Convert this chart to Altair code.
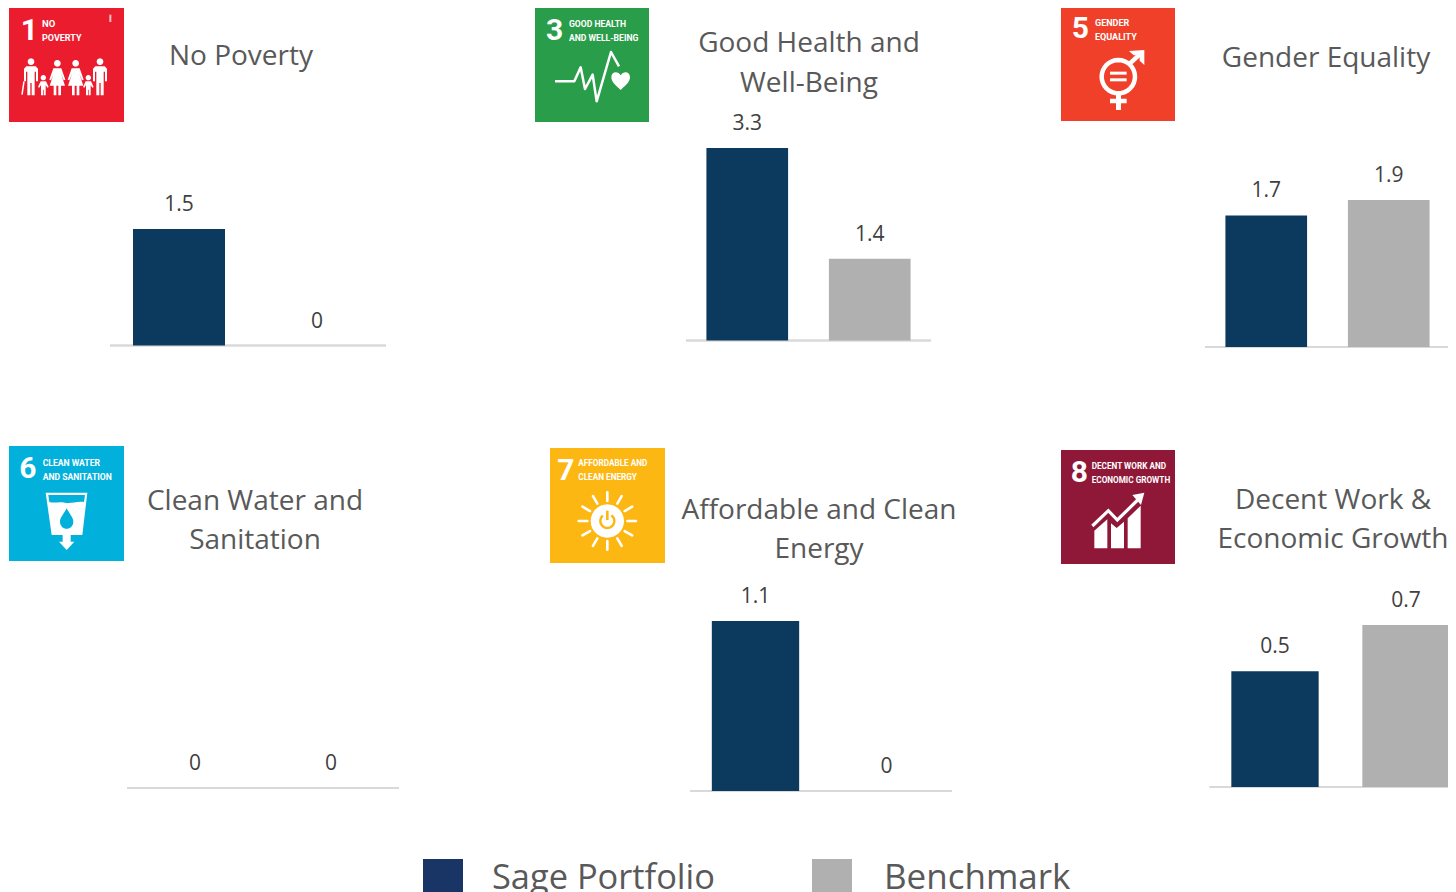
import math
import altair as alt
import pandas as pd

# ---- chart values -------------------------------------------------------
series = ["Sage Portfolio", "Benchmark"]
series_colors = ["#0b3a5e", "#b0b0b0"]
legend_colors = ["#193566", "#b0b0b0"]
goals = ["No Poverty", "Good Health and Well-Being", "Gender Equality",
         "Clean Water and Sanitation", "Affordable and Clean Energy",
         "Decent Work & Economic Growth"]
portfolio = [1.5, 3.3, 1.7, 0, 1.1, 0.5]
benchmark = [0, 1.4, 1.9, 0, 0, 0.7]
scale_tops = [1.5, 3.3, 1.9, 1.0, 1.1, 0.7]

TEXT = "#595959"
FONT = "Open Sans"
NARROW = "Roboto"


def X(p):
    return p - 8


def Y(p):
    return p - 8


# ---- layout of each panel (page pixels) ---------------------------------
panels = [
    dict(rule=(110, 386), base=345.5, top=229, title=[("No Poverty", 241, 65)]),
    dict(rule=(686, 931), base=340.5, top=148,
         title=[("Good Health and", 809, 52), ("Well-Being", 809, 92)]),
    dict(rule=(1205, 1450), base=347, top=200, title=[("Gender Equality", 1326, 67)]),
    dict(rule=(127, 399), base=788, top=688,
         title=[("Clean Water and", 255, 510), ("Sanitation", 255, 549)]),
    dict(rule=(690, 952), base=791, top=621,
         title=[("Affordable and Clean", 819, 519), ("Energy", 819, 558)]),
    dict(rule=(1209.5, 1471.5), base=787, top=625,
         title=[("Decent Work &", 1333, 509), ("Economic Growth", 1333, 548)]),
]


def text_mark(s, x, y, size, color=TEXT, font=FONT, align="center", weight="normal"):
    return alt.Chart(pd.DataFrame({"t": [s]})).mark_text(
        font=font, fontSize=size, color=color, align=align, baseline="alphabetic",
        fontWeight=weight,
    ).encode(x=alt.value(X(x)), y=alt.value(Y(y)), text="t:N")


def panel_layer(i):
    p = panels[i]
    df = pd.DataFrame({"series": series, "value": [portfolio[i], benchmark[i]]})
    xs = alt.Scale(domain=series, range=[X(p["rule"][0]), X(p["rule"][1])],
                   paddingInner=1 / 3, paddingOuter=1 / 6)
    ys = alt.Scale(domain=[0, scale_tops[i]], range=[Y(p["base"]), Y(p["top"])],
                   nice=False, zero=False)
    xe = alt.X("series:N", scale=xs, axis=None, sort=series)
    ye = alt.Y("value:Q", scale=ys, axis=None)
    base = alt.Chart(df)
    bars = base.mark_bar().encode(
        x=xe, y=ye,
        color=alt.Color("series:N", scale=alt.Scale(domain=series, range=series_colors), legend=None),
    )
    labels = base.mark_text(font=FONT, fontSize=21, color="#404040", baseline="alphabetic", dy=-18).encode(
        x=xe, y=ye, text=alt.Text("value:Q")
    )
    rule = base.mark_rule(color="#d9d9d9", strokeWidth=2).encode(
        x=alt.value(X(p["rule"][0])), x2=alt.value(X(p["rule"][1])),
        y=alt.Y(datum=0, scale=ys, axis=None),
    )
    return alt.layer(rule, bars, labels)


# ---- icon helpers: glyph paths written in zoom pixels of the icon box ----
def rect(x, y, w, h, color):
    return alt.Chart(pd.DataFrame({"a": [0]})).mark_rect(color=color).encode(
        x=alt.value(X(x)), x2=alt.value(X(x + w)), y=alt.value(Y(y)), y2=alt.value(Y(y + h)))


class Icon:
    def __init__(self, x, y, w, h, color, zx, zy):
        self.x, self.y, self.w, self.h, self.color, self.zx, self.zy = x, y, w, h, color, zx, zy
        self.s = max(w, h)
        self.layers = [rect(x, y, w, h, color)]

    def conv(self, path):
        out = []
        for tok in path.split():
            if tok[0].isalpha():
                out.append(tok)
            else:
                a, b = tok.split(",")
                u = (float(a) - self.zx) / (self.s * 3) * 2 - 1
                v = (float(b) - self.zy) / (self.s * 3) * 2 - 1
                out.append(f"{u:.4f},{v:.4f}")
        return " ".join(out)

    def shape(self, path, fill="#ffffff", stroke=None, sw=0, cap="butt", join="miter"):
        kw = dict(shape=self.conv(path), size=self.s ** 2, opacity=1)
        if stroke:
            m = alt.Chart(pd.DataFrame({"a": [0]})).mark_point(
                filled=False, stroke=stroke, strokeWidth=sw, strokeCap=cap, strokeJoin=join, **kw)
        else:
            m = alt.Chart(pd.DataFrame({"a": [0]})).mark_point(
                filled=True, fill=fill, strokeWidth=0, **kw)
        self.layers.append(m.encode(x=alt.value(X(self.x + self.s / 2)), y=alt.value(Y(self.y + self.s / 2))))

    def line(self, path, sw, color="#ffffff", cap="butt", join="miter"):
        self.shape(path, stroke=color, sw=sw, cap=cap, join=join)

    def circle(self, cx, cy, r, fill="#ffffff"):
        self.shape(circ(cx, cy, r), fill=fill)

    def label(self, s, zx, zy, size, weight="bold"):
        self.layers.append(text_mark(s, zx / 3 + self.ox, zy / 3 + self.oy, size, "#ffffff", NARROW, "left", weight))


def circ(cx, cy, r, n=32):
    pts = [f"{cx + r * math.cos(2 * math.pi * k / n):.2f},{cy + r * math.sin(2 * math.pi * k / n):.2f}" for k in range(n)]
    return "M " + " L ".join(pts) + " Z"


def poly(*pts):
    return "M " + " L ".join(f"{a},{b}" for a, b in pts) + " Z"


# --- goal 1
ic1 = Icon(9, 7, 115, 115, "#eb1c2d", 27, 22); ic1.ox, ic1.oy = 0, 0


def man(ic, c):
    ic.circle(c, 186, 10)
    ic.shape(poly((c - 21, 245), (c - 21, 207), (c - 14, 200), (c + 14, 200), (c + 21, 207), (c + 21, 245),
                  (c + 15, 245), (c + 15, 216), (c + 11, 216), (c + 11, 287), (c + 2, 287), (c + 2, 250),
                  (c - 2, 250), (c - 2, 287), (c - 11, 287), (c - 11, 216), (c - 15, 216), (c - 15, 245)))


def woman(ic, c):
    ic.circle(c, 191, 10)
    ic.shape(poly((c - 24, 240), (c - 12, 206), (c + 12, 206), (c + 24, 240), (c + 19, 242), (c + 11, 222),
                  (c + 23, 258), (c + 11, 258), (c + 11, 287), (c + 3, 287), (c + 3, 258), (c - 3, 258),
                  (c - 3, 287), (c - 11, 287), (c - 11, 258), (c - 23, 258), (c - 11, 222), (c - 19, 242)))


def child(ic, c):
    ic.circle(c, 234, 8)
    ic.shape(poly((c - 16, 262), (c - 8, 245), (c + 8, 245), (c + 16, 262), (c + 12, 264), (c + 7, 256),
                  (c + 7, 287), (c + 1, 287), (c + 1, 270), (c - 1, 270), (c - 1, 287), (c - 7, 287),
                  (c - 7, 256), (c - 12, 264)))


man(ic1, 93); man(ic1, 300)
woman(ic1, 172); woman(ic1, 227)
child(ic1, 130); child(ic1, 265)
ic1.line("M 72,245 L 66,285", 1.5)
ic1.shape(poly((328, 45), (334, 45), (334, 67), (328, 67)), fill="#f4c0c4")
ic1.label("1", 62, 121, 30)
ic1.label("NO", 126, 80, 9.5)
ic1.label("POVERTY", 126, 122, 9)

# --- goal 3
ic3 = Icon(535, 7, 114, 115, "#2a9d4b", 15, 22); ic3.ox, ic3.oy = 530, 0
ic3.line("M 75,245 L 133,245 L 152,203 L 165,268 L 188,225 L 200,305 L 243,157 L 267,200", 2.5, join="round")
ic3.shape("M 272,271 C 258,258 244,247 244,233 C 244,215 264,213 272,227 C 280,213 300,215 300,233 C 300,247 286,258 272,271 Z")
ic3.label("3", 48, 121, 30)
ic3.label("GOOD HEALTH", 117, 80, 8.6)
ic3.label("AND WELL-BEING", 117, 122, 8.6)

# --- goal 5
ic5 = Icon(1061, 6, 114, 115, "#f0402a", 18, 18); ic5.ox, ic5.oy = 1055, 0
ic5.line(circ(190, 230, 50), 4.5)
ic5.shape(poly((165, 215), (215, 215), (215, 224), (165, 224)))
ic5.shape(poly((165, 235), (215, 235), (215, 244), (165, 244)))
ic5.shape(poly((183, 284), (198, 284), (198, 296), (215, 296), (215, 310), (198, 310), (198, 330), (183, 330), (183, 310), (165, 310), (165, 296), (183, 296)))
ic5.line("M 225,190 L 260,158", 4.5)
ic5.shape(poly((222, 153), (268, 150), (268, 195), (254, 182), (254, 166), (236, 166)))
ic5.label("5", 50, 115, 30)
ic5.label("GENDER", 120, 77, 9)
ic5.label("EQUALITY", 120, 119, 9)

# --- goal 6
ic6 = Icon(9, 446, 115, 115, "#02b0dc", 27, 18); ic6.ox, ic6.oy = 0, 440
ic6.shape(poly((137, 158), (262, 158), (247, 285), (212, 285), (212, 305), (223, 305), (200, 330), (177, 305), (188, 305), (188, 285), (155, 285)))
ic6.shape("M 145,165 L 255,165 L 252,186 C 230,182 215,192 195,188 C 175,184 165,190 148,186 Z", fill="#02b0dc")
ic6.shape("M 200,205 C 208,222 220,232 220,245 C 220,258 210,266 200,266 C 190,266 180,258 180,245 C 180,232 192,222 200,205 Z", fill="#02b0dc")
ic6.label("6", 58, 115, 30)
ic6.label("CLEAN WATER", 128, 77, 8.6)
ic6.label("AND SANITATION", 128, 119, 8.6)

# --- goal 7
ic7 = Icon(550, 448, 115, 115, "#fdb713", 15, 24); ic7.ox, ic7.oy = 545, 440
ic7.circle(187, 243, 50)
rays = []
for k in range(12):
    t = 2 * math.pi * k / 12
    rays.append(f"M {187 + 60 * math.cos(t):.1f},{243 + 60 * math.sin(t):.1f} L {187 + 86 * math.cos(t):.1f},{243 + 86 * math.sin(t):.1f}")
ic7.line(" ".join(rays), 2.6, cap="round")
arc = [(187 + 21 * math.sin(math.radians(a)), 243 - 21 * math.cos(math.radians(a))) for a in range(35, 330, 15)]
ic7.line("M " + " L ".join(f"{a:.1f},{b:.1f}" for a, b in arc), 2.4, color="#fdb713")
ic7.line("M 187,212 L 187,240", 2.6, color="#fdb713")
ic7.label("7", 37, 121, 30)
ic7.label("AFFORDABLE AND", 100, 79, 8.2)
ic7.label("CLEAN ENERGY", 100, 120, 8.2)

# --- goal 8
ic8 = Icon(1061, 450, 114, 114, "#8f1838", 18, 30); ic8.ox, ic8.oy = 1055, 440
ic8.shape(poly((118, 272), (157, 238), (157, 325), (118, 325)))
ic8.shape(poly((168, 250), (185, 264), (207, 245), (207, 325), (168, 325)))
ic8.shape(poly((218, 235), (257, 197), (257, 325), (218, 325)))
ic8.line("M 112,258 L 160,212 L 187,240 L 248,180", 3.2)
ic8.shape(poly((232, 165), (268, 158), (258, 195)))
ic8.label("8", 47, 127, 30)
ic8.label("DECENT WORK AND", 110, 88, 8.2)
ic8.label("ECONOMIC GROWTH", 110, 128, 8.2)

icons = [ic1, ic3, ic5, ic6, ic7, ic8]

# ---- assemble -----------------------------------------------------------
parts = [panel_layer(i) for i in range(6)]
flat = []
for ic in icons:
    flat.extend(ic.layers)
for p in panels:
    for s, x, y in p["title"]:
        flat.append(text_mark(s, x, y, 28))
flat += [
    rect(423, 859, 40, 40, legend_colors[0]),
    rect(812, 859, 40, 40, legend_colors[1]),
    text_mark(series[0], 492, 889, 34.4, align="left"),
    text_mark(series[1], 884, 889, 35, align="left"),
]

chart = alt.layer(*parts, *flat).resolve_scale(x="independent", y="independent", color="shared").properties(
    width=1440, height=884, padding=0, autosize=alt.AutoSizeParams(type="none"), background="#ffffff",
).configure_view(stroke=None)

chart.save("out.html", embed_options={"renderer": "svg", "actions": False})
